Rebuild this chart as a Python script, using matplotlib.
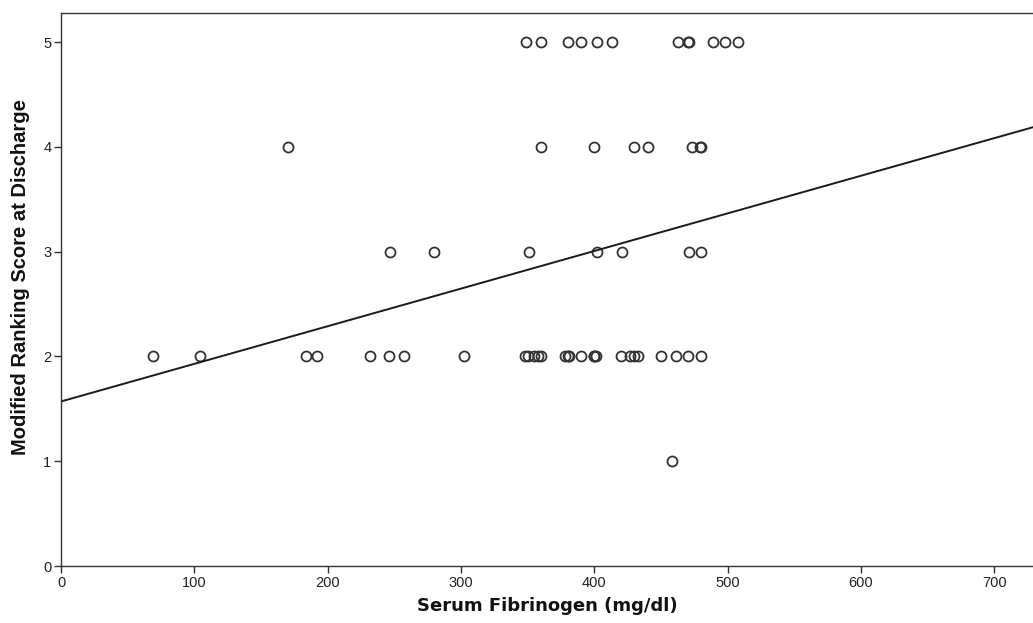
import matplotlib
matplotlib.use("Agg")
import matplotlib.pyplot as plt
import numpy as np

# Serum fibrinogen (mg/dl) grouped by modified Rankin score at discharge
fib_score5 = [349, 360, 380, 390, 402, 413, 463, 470, 471, 489, 498, 508]
fib_score4 = [170, 360, 400, 430, 440, 473, 479, 480]
fib_score3 = [247, 280, 351, 402, 421, 471, 480]
fib_score2 = [69, 104, 184, 192, 232, 246, 257, 302,
              348, 350, 355, 358, 360,
              378, 380, 381, 390, 400, 400, 401,
              420, 427, 430, 433, 450, 461, 470, 480]
fib_score1 = [458]

# Linear fit line (intercept, slope)
fit_intercept = 1.57
fit_slope = 0.00359

x_ticks = [0, 100, 200, 300, 400, 500, 600, 700]
y_ticks = [0, 1, 2, 3, 4, 5]

fig = plt.figure(figsize=(10.33, 6.23), dpi=100)
ax = fig.add_axes([61 / 1033, 57 / 623, (1033 - 61) / 1033, (566 - 13) / 623])

groups = [(fib_score5, 5), (fib_score4, 4), (fib_score3, 3), (fib_score2, 2), (fib_score1, 1)]
for xs, score in groups:
    ax.plot(xs, [score] * len(xs), linestyle="none", marker="o",
            markersize=7.2, markerfacecolor="none", markeredgecolor="#333333",
            markeredgewidth=1.3)

xlim = (0, 729)
xl = np.array(xlim)
ax.plot(xl, fit_intercept + fit_slope * xl, color="#1a1a1a", linewidth=1.4)

ax.set_xlim(*xlim)
ax.set_ylim(0, 5.277)
ax.set_xticks(x_ticks)
ax.set_yticks(y_ticks)
ax.tick_params(direction="out", length=5, width=1, color="#333333",
               labelsize=10.5, labelcolor="#222222", pad=2)
for lab in ax.get_xticklabels() + ax.get_yticklabels():
    lab.set_family("Liberation Sans")

for side in ("left", "bottom", "top"):
    ax.spines[side].set_color("#333333")
    ax.spines[side].set_linewidth(1.0)
ax.spines["right"].set_visible(False)

ax.set_xlabel("Serum Fibrinogen (mg/dl)", fontsize=13, fontweight="bold",
              family="DejaVu Sans", labelpad=5, color="#111111")
ax.set_ylabel("Modified Ranking Score at Discharge", fontsize=14.5, fontweight="bold",
              family="Liberation Sans", color="#111111")
ax.yaxis.set_label_coords(-0.032, 0.522)

fig.savefig("out.png", dpi=100)
